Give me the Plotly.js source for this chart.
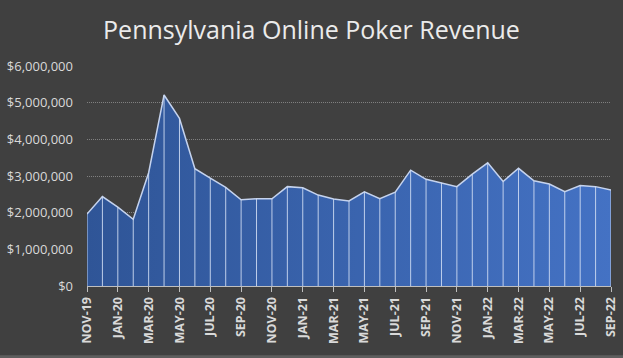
<!DOCTYPE html>
<html>
<head>
<meta charset="utf-8">
<script src="https://cdn.plot.ly/plotly-3.0.1.min.js"></script>
<style>html,body{margin:0;padding:0;background:#404040;}#chart{width:623px;height:358px;}</style>
</head>
<body>
<div id="chart"></div>
<script>
const months = ["NOV-19","DEC-19","JAN-20","FEB-20","MAR-20","APR-20","MAY-20","JUN-20","JUL-20","AUG-20","SEP-20","OCT-20","NOV-20","DEC-20","JAN-21","FEB-21","MAR-21","APR-21","MAY-21","JUN-21","JUL-21","AUG-21","SEP-21","OCT-21","NOV-21","DEC-21","JAN-22","FEB-22","MAR-22","APR-22","MAY-22","JUN-22","JUL-22","AUG-22","SEP-22"];
const revenue = [1960000,2440000,2150000,1820000,3090000,5210000,4570000,3200000,2940000,2690000,2350000,2380000,2380000,2710000,2680000,2480000,2370000,2320000,2570000,2380000,2560000,3160000,2910000,2820000,2710000,3050000,3360000,2850000,3210000,2870000,2780000,2570000,2740000,2710000,2620000];
const tickLabels = months.filter((m, i) => i % 2 === 0);

const dropX = [], dropY = [];
months.forEach((m, i) => { dropX.push(m, m, null); dropY.push(0, revenue[i], null); });

const traces = [
  {
    x: months, y: revenue, type: 'scatter', mode: 'lines',
    fill: 'tozeroy',
    fillgradient: {type: 'horizontal', colorscale: [[0, '#2f5597'], [1, '#4472c4']]},
    line: {color: '#c5d3ee', width: 1.5},
    hoverinfo: 'x+y'
  },
  {
    x: dropX, y: dropY, type: 'scatter', mode: 'lines',
    line: {color: 'rgba(205,218,242,0.9)', width: 1},
    hoverinfo: 'skip'
  }
];

const layout = {
  width: 623, height: 358,
  paper_bgcolor: '#404040', plot_bgcolor: '#404040',
  margin: {l: 87, r: 12, t: 66, b: 72},
  showlegend: false,
  title: {text: 'Pennsylvania Online Poker Revenue', x: 0.5, xanchor: 'center', y: 0.915, yanchor: 'middle',
          font: {family: '"Open Sans", "Noto Sans", sans-serif', size: 25, color: '#ebebeb'}},
  xaxis: {
    type: 'category', range: [0, months.length - 1],
    tickmode: 'array', tickvals: tickLabels, ticktext: tickLabels.map(t => '<b>' + t + '</b>'),
    tickangle: -90, ticks: 'outside', ticklen: 5, tickcolor: '#bfbfbf',
    tickfont: {family: '"Open Sans", "Noto Sans", sans-serif', size: 12.5, color: '#d9d9d9'},
    showgrid: false, showline: true, linecolor: '#bfbfbf', linewidth: 1, zeroline: false
  },
  yaxis: {
    range: [0, 6000000], dtick: 1000000, tickformat: '$,.0f',
    tickfont: {family: '"Open Sans", "Noto Sans", sans-serif', size: 13, color: '#d9d9d9'},
    gridcolor: '#808080', griddash: '1px,1px', gridwidth: 1, zeroline: false, showline: false,
    ticks: '', ticklabelstandoff: 13
  },
  shapes: [
    {type: 'rect', xref: 'paper', yref: 'paper', x0: -0.2, x1: 1.1, y0: -0.315, y1: -0.34, fillcolor: '#5e5e5e', line: {width: 0}, layer: 'below'}
  ]
};

Plotly.newPlot('chart', traces, layout, {displayModeBar: false, staticPlot: true});
</script>
</body>
</html>
